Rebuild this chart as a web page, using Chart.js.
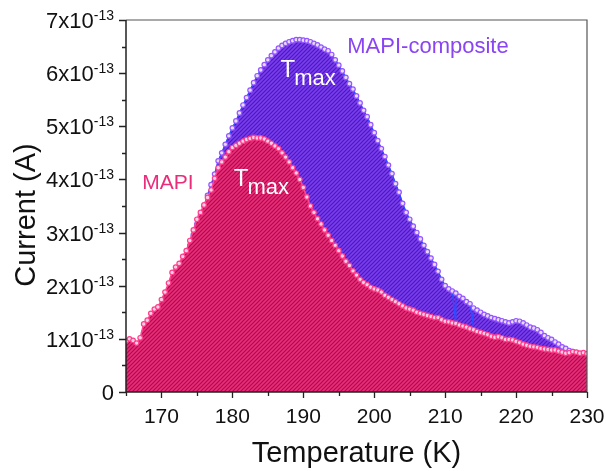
<!DOCTYPE html>
<html><head><meta charset="utf-8">
<script src="https://cdn.jsdelivr.net/npm/chart.js@4.4.1/dist/chart.umd.min.js"></script>
<style>html,body{margin:0;padding:0;background:#fff;overflow:hidden}#wrap{width:606px;height:471px}</style>
</head><body><div id="wrap"><canvas id="c" width="606" height="471"></canvas></div>
<script>
const temps = [
165,165.5,166,166.5,167,167.5,168,168.5,169,169.5,
170,170.5,171,171.5,172,172.5,173,173.5,174,174.5,
175,175.5,176,176.5,177,177.5,178,178.5,179,179.5,
180,180.5,181,181.5,182,182.5,183,183.5,184,184.5,
185,185.5,186,186.5,187,187.5,188,188.5,189,189.5,
190,190.5,191,191.5,192,192.5,193,193.5,194,194.5,
195,195.5,196,196.5,197,197.5,198,198.5,199,199.5,
200,200.5,201,201.5,202,202.5,203,203.5,204,204.5,
205,205.5,206,206.5,207,207.5,208,208.5,209,209.5,
210,210.5,211,211.5,212,212.5,213,213.5,214,214.5,
215,215.5,216,216.5,217,217.5,218,218.5,219,219.5,
220,220.5,221,221.5,222,222.5,223,223.5,224,224.5,
225,225.5,226,226.5,227,227.5,228,228.5,229,229.5,
230];
// current in units of 1e-13 A
const mapi = [
0.96,1.00,0.97,0.92,1.02,1.28,1.35,1.48,1.56,1.60,
1.74,1.88,2.05,2.25,2.35,2.42,2.55,2.66,2.85,3.05,
3.25,3.38,3.52,3.66,3.80,4.02,4.22,4.33,4.42,4.52,
4.60,4.64,4.68,4.72,4.75,4.77,4.79,4.78,4.78,4.76,
4.72,4.68,4.63,4.58,4.50,4.42,4.33,4.22,4.12,4.00,
3.85,3.67,3.50,3.38,3.26,3.16,3.05,2.95,2.85,2.76,
2.66,2.56,2.46,2.38,2.28,2.20,2.12,2.06,2.02,1.97,
1.94,1.92,1.88,1.82,1.78,1.74,1.70,1.66,1.62,1.58,
1.56,1.54,1.50,1.48,1.46,1.44,1.42,1.40,1.40,1.36,
1.33,1.32,1.30,1.29,1.26,1.24,1.22,1.19,1.17,1.14,
1.12,1.10,1.08,1.05,1.03,1.04,1.02,0.99,0.99,0.98,
0.95,0.93,0.90,0.88,0.86,0.85,0.84,0.82,0.81,0.80,
0.79,0.79,0.77,0.75,0.73,0.74,0.76,0.75,0.73,0.74,
0.72];
const composite = [
0.85,0.88,0.86,0.84,0.92,1.12,1.22,1.35,1.44,1.50,
1.62,1.76,1.92,2.10,2.22,2.32,2.45,2.58,2.76,2.96,
3.16,3.32,3.50,3.70,3.90,4.10,4.35,4.50,4.66,4.82,
4.97,5.10,5.25,5.40,5.54,5.68,5.82,5.95,6.06,6.16,
6.25,6.33,6.40,6.47,6.52,6.56,6.59,6.61,6.63,6.63,
6.62,6.61,6.59,6.56,6.53,6.49,6.45,6.42,6.35,6.25,
6.15,6.04,5.92,5.80,5.70,5.57,5.44,5.30,5.18,5.03,
4.88,4.73,4.58,4.43,4.27,4.11,3.92,3.76,3.55,3.38,
3.25,3.12,3.00,2.88,2.76,2.64,2.52,2.40,2.27,2.12,
2.00,1.94,1.90,1.86,1.80,1.76,1.70,1.66,1.58,1.54,
1.50,1.46,1.43,1.40,1.38,1.36,1.34,1.32,1.30,1.32,
1.34,1.33,1.30,1.26,1.22,1.20,1.17,1.12,1.06,1.02,
0.99,0.94,0.90,0.85,0.82,0.78,0.76,0.74,0.72,0.72,
0.70];
const compositeDips = [{t:211.45, v:1.36}, {t:213.9, v:1.32}];
const yTickValues = [0,1,2,3,4,5,6,7];
const yTickLabels = ['0','1x10','2x10','3x10','4x10','5x10','6x10','7x10'];
const ySup = '-13';
const xTickValues = [170,180,190,200,210,220,230];
const xTickLabels = ['170','180','190','200','210','220','230'];
const UNIT = 1e-13;

function makePattern(base, stripe){
  const c = document.createElement('canvas'); c.width = 4; c.height = 4;
  const g = c.getContext('2d');
  g.fillStyle = base; g.fillRect(0,0,4,4);
  g.strokeStyle = stripe; g.lineWidth = 1.2;
  g.beginPath();
  g.moveTo(-1,5); g.lineTo(5,-1);
  g.moveTo(-1,1); g.lineTo(1,-1);
  g.moveTo(3,5); g.lineTo(5,3);
  g.stroke();
  return g.createPattern(c,'repeat');
}
const cv = document.getElementById('c');
const pinkFill = makePattern('#ee2b78', '#a3104c');
const purpleFill = makePattern('#7a3cf4', '#4a1cb0');

const mapiData = temps.map((t,i)=>({x:t, y:mapi[i]*UNIT}));
const compData = temps.map((t,i)=>({x:t, y:composite[i]*UNIT}));
const blueData = compData.concat(compositeDips.map(d=>({x:d.t, y:d.v*UNIT}))).sort((a,b)=>a.x-b.x);

const FONT = '"Liberation Sans", Arial, sans-serif';
const decor = {
  id:'decor',
  afterDraw(chart){
    const ctx = chart.ctx, a = chart.chartArea;
    const xs = chart.scales.x, ys = chart.scales.y;
    ctx.save();
    // frame
    ctx.strokeStyle = '#555'; ctx.lineWidth = 1.2;
    ctx.beginPath(); ctx.moveTo(a.left, a.top); ctx.lineTo(a.right, a.top); ctx.lineTo(a.right, a.bottom); ctx.stroke();
    ctx.strokeStyle = '#222'; ctx.lineWidth = 1.5;
    ctx.beginPath(); ctx.moveTo(a.left, a.top); ctx.lineTo(a.left, a.bottom); ctx.lineTo(a.right, a.bottom); ctx.stroke();
    // ticks
    ctx.lineWidth = 1.3;
    ctx.beginPath();
    for (let v = 0; v <= 7; v += 0.5){
      const y = Math.round(ys.getPixelForValue(v*UNIT)) + 0.5;
      const len = (v % 1 === 0) ? 7 : 4;
      ctx.moveTo(a.left, y); ctx.lineTo(a.left - len, y);
    }
    for (let t = 165; t <= 230; t += 5){
      const x = Math.round(xs.getPixelForValue(t)) + 0.5;
      const len = (t % 10 === 0) ? 6 : 4;
      ctx.moveTo(x, a.bottom); ctx.lineTo(x, a.bottom + len);
    }
    ctx.stroke();
    // y tick labels
    ctx.fillStyle = '#111';
    const right = a.left - 12;
    yTickValues.forEach((v,i)=>{
      const y = ys.getPixelForValue(v*UNIT);
      if (v === 0){
        ctx.font = '22px ' + FONT; ctx.textAlign = 'right'; ctx.textBaseline = 'alphabetic';
        ctx.fillText(yTickLabels[i], right, y + 8);
      } else {
        ctx.font = '14px ' + FONT;
        const sw = ctx.measureText(ySup).width;
        ctx.textAlign = 'left'; ctx.textBaseline = 'alphabetic';
        ctx.fillText(ySup, right - sw, y);
        ctx.font = '22px ' + FONT; ctx.textAlign = 'right';
        ctx.fillText(yTickLabels[i], right - sw, y + 8);
      }
    });
    // x tick labels
    ctx.font = '21px ' + FONT; ctx.textAlign = 'center'; ctx.textBaseline = 'alphabetic';
    xTickValues.forEach((t,i)=>{
      ctx.fillText(xTickLabels[i], xs.getPixelForValue(t), a.bottom + 31);
    });
    // axis titles
    ctx.font = '29px ' + FONT;
    ctx.fillText('Temperature (K)', (a.left + a.right)/2, 462);
    ctx.save();
    ctx.translate(35, (a.top + a.bottom)/2 + 9);
    ctx.rotate(-Math.PI/2);
    ctx.fillText('Current (A)', 0, 0);
    ctx.restore();
    // annotations
    ctx.textAlign = 'left';
    ctx.font = '22px ' + FONT; ctx.fillStyle = '#8a45f2';
    ctx.fillText('MAPI-composite', xs.getPixelForValue(196.2), ys.getPixelForValue(6.38*UNIT));
    ctx.font = '21px ' + FONT; ctx.fillStyle = '#ea2d7a';
    ctx.fillText('MAPI', xs.getPixelForValue(167.3), ys.getPixelForValue(3.82*UNIT));
    ctx.fillStyle = '#ffffff';
    const tmax = (t, v) => {
      const x = xs.getPixelForValue(t), y = ys.getPixelForValue(v*UNIT);
      ctx.font = '24px ' + FONT; ctx.fillText('T', x, y);
      const w = ctx.measureText('T').width;
      ctx.font = '22px ' + FONT; ctx.fillText('max', x + w - 1, y + 8);
    };
    tmax(186.8, 5.93);
    tmax(180.2, 3.88);
    ctx.restore();
  }
};

new Chart(cv, {
  type:'line',
  data:{datasets:[
    {data:mapiData, order:0, fill:'origin', backgroundColor:pinkFill, borderColor:'#ff4590', borderWidth:1.5,
     pointRadius:2.3, pointBorderWidth:1.2, pointBorderColor:'#ff3d8c', pointBackgroundColor:'#ffd0e4'},
    {data:compData, order:1, fill:false, showLine:false,
     pointRadius:2.3, pointBorderWidth:1.2, pointBorderColor:'#9656ff', pointBackgroundColor:'#e6daff'},
    {data:blueData, order:2, fill:false, borderColor:'#2b4cff', borderWidth:1.4, pointRadius:0},
    {data:compData, order:3, fill:'origin', backgroundColor:purpleFill, borderColor:'#8a4cff', borderWidth:1, pointRadius:0}
  ]},
  options:{
    responsive:false, animation:false, devicePixelRatio:1,
    layout:{padding:{left:126, top:20, right:19, bottom:79}},
    plugins:{legend:{display:false}, tooltip:{enabled:false}},
    elements:{line:{tension:0}},
    scales:{
      x:{type:'linear', min:165, max:230, display:false},
      y:{type:'linear', min:0, max:7e-13, display:false}
    }
  },
  plugins:[decor]
});
</script>
</body></html>
